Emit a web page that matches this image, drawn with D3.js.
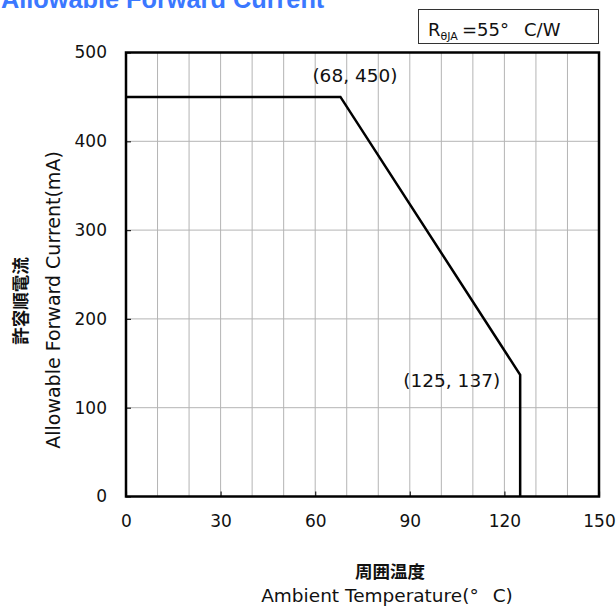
<!DOCTYPE html>
<html><head><meta charset="utf-8">
<script src="https://cdn.jsdelivr.net/npm/d3@7"></script>
<style>
body{margin:0;background:#fff;}
svg{display:block;}
text{font-family:"DejaVu Sans",Verdana,sans-serif;fill:#111;}
</style></head>
<body>
<script>
// ---- data ----
const tempPoints = [0, 68, 125, 125];          // Ambient temperature (°C)
const currentPoints = [450, 450, 137, 0];      // Allowable forward current (mA)
const xTicks = [0, 30, 60, 90, 120, 150];
const yTicks = [0, 100, 200, 300, 400, 500];
const xGrid = [10,20,30,40,50,60,70,80,90,100,110,120,130,140];
const yGrid = [100,200,300,400];
const annotations = [
  {t:68, v:450, label:"(68, 450)"},
  {t:125, v:137, label:"(125, 137)"}
];
const titleText = "Allowable Forward Current";
const yLabelJa = "許容順電流", yLabelEn = "Allowable Forward Current(mA)";
const xLabelJa = "周囲温度", xLabelEnA = "Ambient Temperature(°", xLabelEnB = "C)";

const W = 616, H = 608;
const m = {left:126, right:616-599, top:52.5, bottom:608-496.5};
const svg = d3.select("body").append("svg").attr("width",W).attr("height",H);

const x = d3.scaleLinear().domain([0,150]).range([m.left, W-m.right]);
const y = d3.scaleLinear().domain([0,500]).range([H-m.bottom, m.top]);

// title (partially cut off at top)
svg.append("text").attr("x",1).attr("y",7.5)
  .style("font-family","'Liberation Sans',Arial,sans-serif")
  .style("font-weight","bold").style("font-size","25.3px").style("fill","#3b78ff")
  .text(titleText);

// legend box
svg.append("rect").attr("x",418.5).attr("y",9.5).attr("width",180).attr("height",34)
  .attr("fill","#fff").attr("stroke","#333").attr("stroke-width",1);
const lt = svg.append("text").attr("x",428).attr("y",36).style("font-size","18px");
lt.append("tspan").text("R");
lt.append("tspan").attr("dy",4).style("font-size","11px").text("θJA");
lt.append("tspan").attr("dy",-4).attr("x",462).text("=55°");
lt.append("tspan").attr("x",524).text("C/W");

// grid
svg.append("g").selectAll("line").data(xGrid).join("line")
  .attr("x1",d=>x(d)).attr("x2",d=>x(d)).attr("y1",y(0)).attr("y2",y(500))
  .attr("stroke","#b4b4b4").attr("stroke-width",1);
svg.append("g").selectAll("line").data(yGrid).join("line")
  .attr("y1",d=>y(d)).attr("y2",d=>y(d)).attr("x1",x(0)).attr("x2",x(150))
  .attr("stroke","#b4b4b4").attr("stroke-width",1);

// axes (inward ticks)
const xAxis = svg.append("g").attr("transform",`translate(0,${y(0)})`)
  .call(d3.axisBottom(x).tickValues(xTicks).tickSize(-5).tickPadding(18));
const yAxis = svg.append("g").attr("transform",`translate(${x(0)},0)`)
  .call(d3.axisLeft(y).tickValues(yTicks).tickSize(-5).tickPadding(19));
[xAxis,yAxis].forEach(g=>{
  g.select(".domain").remove();
  g.selectAll(".tick line").attr("stroke","#222").attr("stroke-width",1.2);
  g.selectAll(".tick text").style("font-family","'DejaVu Sans',sans-serif").style("font-size","17px").attr("fill","#111");
});

// frame
svg.append("rect").attr("x",x(0)).attr("y",y(500)).attr("width",x(150)-x(0)).attr("height",y(0)-y(500))
  .attr("fill","none").attr("stroke","#000").attr("stroke-width",2.5);

// curve
const pts = tempPoints.map((t,i)=>[t,currentPoints[i]]);
svg.append("path").datum(pts)
  .attr("d",d3.line().x(d=>x(d[0])).y(d=>y(d[1])))
  .attr("fill","none").attr("stroke","#000").attr("stroke-width",2.5);

// annotations
svg.append("text").attr("x",x(annotations[0].t)+14.5).attr("y",y(annotations[0].v)-15)
  .attr("text-anchor","middle").style("font-size","18.5px").text(annotations[0].label);
svg.append("text").attr("x",x(annotations[1].t)-20).attr("y",y(annotations[1].v)+12)
  .attr("text-anchor","end").style("font-size","18.5px").text(annotations[1].label);

// axis titles
svg.append("text").attr("transform","translate(27,301) rotate(-90)").attr("text-anchor","middle")
  .style("font-family","'Noto Sans CJK JP',sans-serif").style("font-weight","bold").style("font-size","17.5px").text(yLabelJa);
svg.append("text").attr("transform","translate(60,300) rotate(-90)").attr("text-anchor","middle")
  .style("font-size","19px").text(yLabelEn);
svg.append("text").attr("x",390).attr("y",578).attr("text-anchor","middle")
  .style("font-family","'Noto Sans CJK JP',sans-serif").style("font-weight","bold").style("font-size","17.5px").text(xLabelJa);
const xl = svg.append("text").attr("x",387).attr("y",602).attr("text-anchor","middle").style("font-size","18.5px");
xl.append("tspan").text(xLabelEnA);
xl.append("tspan").attr("dx",14).text(xLabelEnB);
</script>
</body></html>
